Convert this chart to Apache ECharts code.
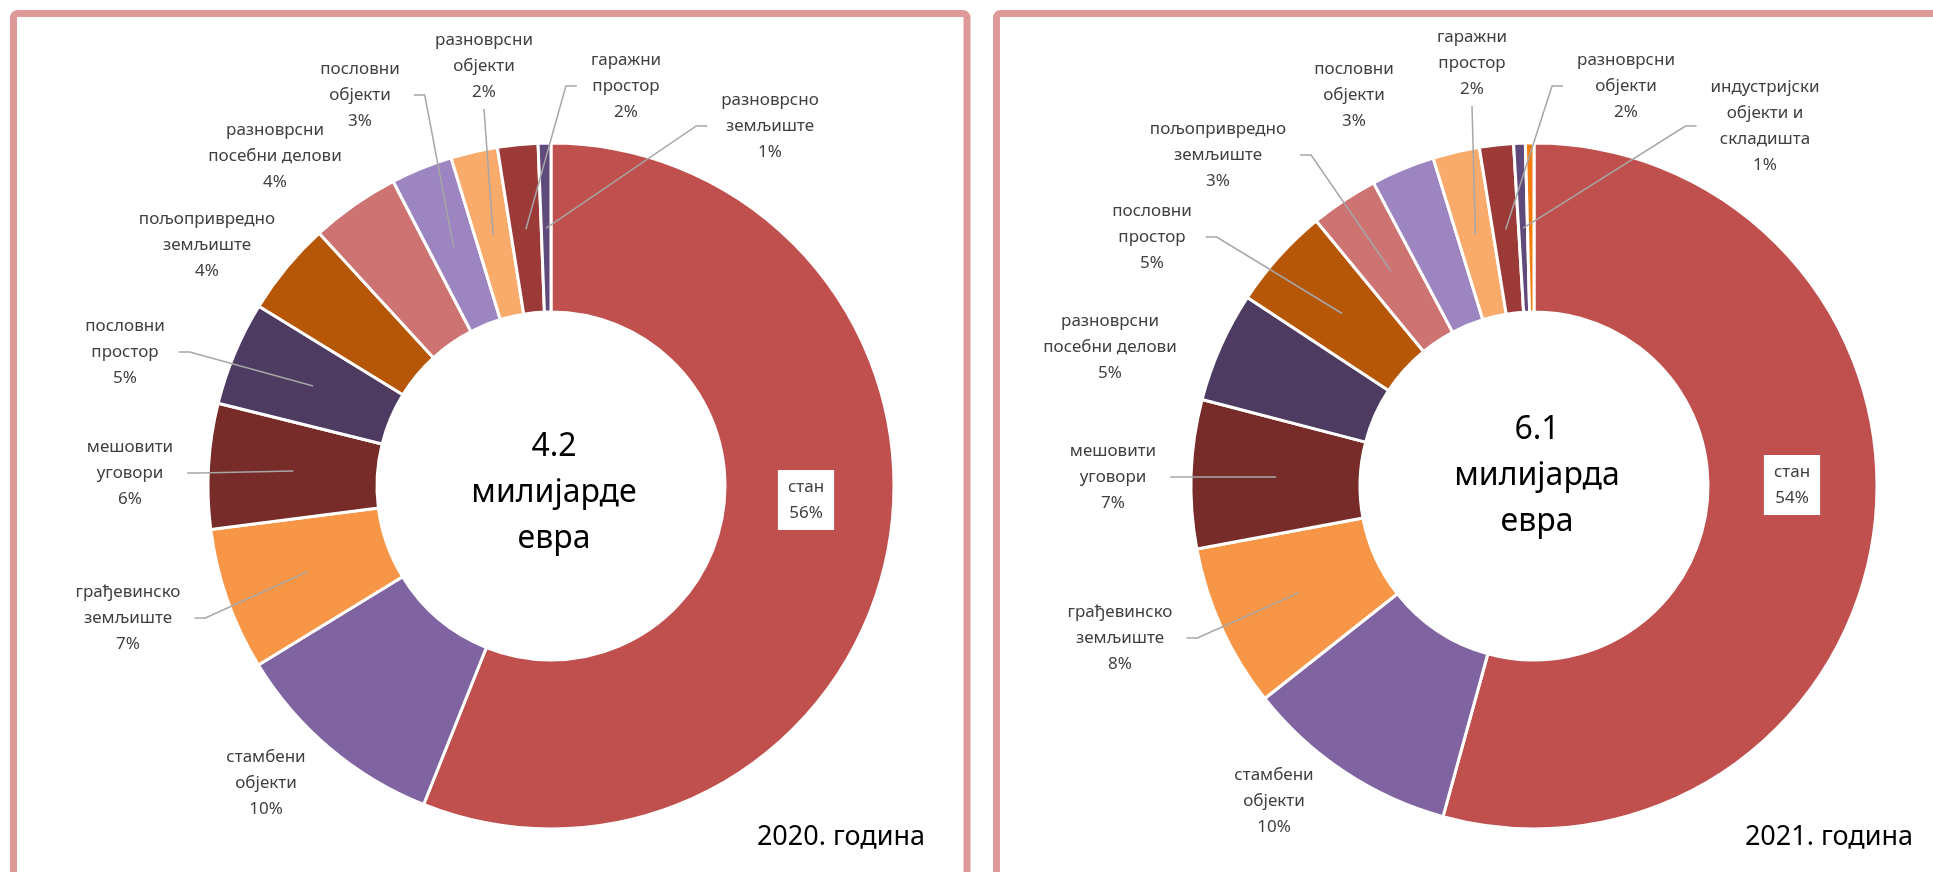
<!DOCTYPE html>
<html>
<head>
<meta charset="utf-8">
<title>Промет непокретности 2020 / 2021</title>
<script src="https://cdn.jsdelivr.net/npm/echarts@6.0.0/dist/echarts.min.js"></script>
<style>
  html, body { margin: 0; padding: 0; background: #fff; }
  #chart { width: 1933px; height: 872px; }
</style>
</head>
<body>
<div id="chart"></div>
<script>
// 2020. година (удео у вредности, %)
const categories2020 = ['стан', 'стамбени објекти', 'грађевинско земљиште', 'мешовити уговори', 'пословни простор',
  'пољопривредно земљиште', 'разноврсни посебни делови', 'пословни објекти', 'разноврсни објекти', 'гаражни простор',
  'разноврсно земљиште']
const shares2020 = [56.0, 10.2, 6.7, 5.9, 4.9, 4.4, 4.2, 2.9, 2.2, 1.9, 0.6]

// 2021. година
const categories2021 = ['стан', 'стамбени објекти', 'грађевинско земљиште', 'мешовити уговори', 'разноврсни посебни делови',
  'пословни простор', 'пољопривредно земљиште', 'пословни објекти', 'гаражни простор', 'разноврсни објекти',
  'индустријски објекти и складишта', 'разноврсно земљиште']
const shares2021 = [54.3, 10.1, 7.7, 7.0, 5.2, 4.8, 3.2, 3.0, 2.2, 1.6, 0.55, 0.4]

const totals = ['4.2', '6.1']
const totalUnits = ['милијарде евра', 'милијарда евра']
const years = ['2020. година', '2021. година']

// боје по редоследу исечака
const sliceColors = ['#C0504D', '#8064A2', '#F79646', '#772C2A', '#4D3B62', '#B65708',
  '#CD7371', '#9C85C0', '#F9AB6B', '#9C3A38', '#604A7B', '#F47C0F']

// положаји ознака (px) и врста водеће линије
const labelSpots2020 = [
  { x: 806, y: 500, mode: 'box' },
  { x: 266, y: 783, mode: 'none' },
  { x: 128, y: 618, mode: 'left' },
  { x: 130, y: 473, mode: 'left' },
  { x: 125, y: 352, mode: 'left' },
  { x: 207, y: 245, mode: 'none' },
  { x: 275, y: 156, mode: 'none' },
  { x: 360, y: 95, mode: 'left' },
  { x: 484, y: 66, mode: 'top' },
  { x: 626, y: 86, mode: 'right' },
  { x: 770, y: 126, mode: 'right' }
]
const labelSpots2021 = [
  { x: 1792, y: 485, mode: 'box' },
  { x: 1274, y: 801, mode: 'none' },
  { x: 1120, y: 638, mode: 'left' },
  { x: 1113, y: 477, mode: 'left' },
  { x: 1110, y: 347, mode: 'none' },
  { x: 1152, y: 237, mode: 'left' },
  { x: 1218, y: 155, mode: 'left' },
  { x: 1354, y: 95, mode: 'none' },
  { x: 1472, y: 63, mode: 'top' },
  { x: 1626, y: 86, mode: 'right' },
  { x: 1765, y: 126, mode: 'right' },
  { mode: 'hide' }
]

const CENTERS = [[551, 486], [1534, 486]]
const R_IN = 174
const R_OUT = 343
const R_LEADER = 258
const FONT = '"Noto Sans", "DejaVu Sans", sans-serif'

function wrapName(name) {
  const lines = []
  let cur = ''
  name.split(' ').forEach(w => {
    if (cur && (cur + ' ' + w).length > 14) {
      lines.push(cur)
      cur = w
    } else {
      cur = cur ? cur + ' ' + w : w
    }
  })
  lines.push(cur)
  return lines.join('\n')
}

function sliceData(names, values) {
  return names.map((name, i) => ({ name: name, value: values[i], itemStyle: { color: sliceColors[i] } }))
}

// исти подаци, провидни исечци, само ознаке и линије (изнад прстена)
function labelData(names, values, spots) {
  return names.map((name, i) => {
    const mode = spots[i].mode
    const item = { name: name, value: values[i] }
    if (mode === 'none' || mode === 'box' || mode === 'hide') item.labelLine = { show: false }
    if (mode === 'box') item.label = { backgroundColor: '#fff', padding: [4, 10] }
    if (mode === 'hide') item.label = { show: false }
    return item
  })
}

function placeLabel(params, spots, center) {
  const spot = spots[params.dataIndex]
  if (!spot || spot.mode === 'hide') return {}
  const w = params.labelRect.width
  const h = params.labelRect.height
  const out = { x: spot.x, y: spot.y, align: 'center', verticalAlign: 'middle' }
  const pts = params.labelLinePoints
  if (pts && pts.length) {
    // крај линије на средини прстена, по средишњем углу исечка
    const k = R_LEADER / R_OUT
    const end = [center[0] + (pts[0][0] - center[0]) * k, center[1] + (pts[0][1] - center[1]) * k]
    if (spot.mode === 'left') {
      const sx = spot.x + w / 2 + 14
      out.labelLinePoints = [[sx, spot.y], [sx + 11, spot.y], end]
    } else if (spot.mode === 'right') {
      const sx = spot.x - w / 2 - 14
      out.labelLinePoints = [[sx, spot.y], [sx - 11, spot.y], end]
    } else if (spot.mode === 'top') {
      const sy = spot.y + h / 2 + 4
      out.labelLinePoints = [[spot.x, sy], [spot.x, sy], end]
    }
  }
  return out
}

function baseRing(idx, names, values) {
  return {
    type: 'pie',
    z: 2,
    center: CENTERS[idx],
    radius: [R_IN, R_OUT],
    startAngle: 90,
    clockwise: true,
    silent: true,
    animation: false,
    itemStyle: { borderColor: '#fff', borderWidth: 3 },
    label: { show: false },
    labelLine: { show: false },
    emphasis: { disabled: true },
    data: sliceData(names, values)
  }
}

function labelRing(idx, names, values, spots) {
  return {
    type: 'pie',
    z: 4,
    center: CENTERS[idx],
    radius: [R_IN, R_OUT],
    startAngle: 90,
    clockwise: true,
    avoidLabelOverlap: false,
    silent: true,
    animation: false,
    itemStyle: { color: 'rgba(0,0,0,0)', borderWidth: 0 },
    label: {
      show: true,
      position: 'outside',
      formatter: p => wrapName(p.name) + '\n' + Math.round(p.percent) + '%',
      color: '#404040',
      fontFamily: FONT,
      fontSize: 17,
      lineHeight: 26,
      align: 'center'
    },
    labelLine: { show: true, length: 10, length2: 10, lineStyle: { color: '#A6A6A6', width: 1.5 } },
    labelLayout: params => placeLabel(params, spots, CENTERS[idx]),
    emphasis: { disabled: true },
    data: labelData(names, values, spots)
  }
}

const panelBorder = { fill: 'none', stroke: '#DE9A99', lineWidth: 7 }
const centerTextY = [493, 476]
const yearRight = [925, 1913]

const graphics = [
  { type: 'rect', silent: true, z: 0, shape: { x: 13.5, y: 13.5, width: 953.5, height: 900, r: 4 }, style: panelBorder },
  { type: 'rect', silent: true, z: 0, shape: { x: 996.5, y: 13.5, width: 1000, height: 900, r: 4 }, style: panelBorder }
]
totals.forEach((t, i) => {
  graphics.push({
    type: 'text', silent: true, z: 10,
    x: CENTERS[i][0] + 3, y: centerTextY[i],
    style: {
      text: t + '\n' + totalUnits[i].split(' ').join('\n'),
      fill: '#000', fontFamily: FONT, fontSize: 32, lineHeight: 46,
      align: 'center', verticalAlign: 'middle'
    }
  })
  graphics.push({
    type: 'text', silent: true, z: 10,
    x: yearRight[i], y: 837,
    style: {
      text: years[i], fill: '#000', fontFamily: FONT, fontSize: 27,
      align: 'right', verticalAlign: 'middle'
    }
  })
})

const chart = echarts.init(document.getElementById('chart'))
chart.setOption({
  backgroundColor: '#fff',
  animation: false,
  graphic: { elements: graphics },
  series: [
    baseRing(0, categories2020, shares2020),
    baseRing(1, categories2021, shares2021),
    labelRing(0, categories2020, shares2020, labelSpots2020),
    labelRing(1, categories2021, shares2021, labelSpots2021)
  ]
})
</script>
</body>
</html>
